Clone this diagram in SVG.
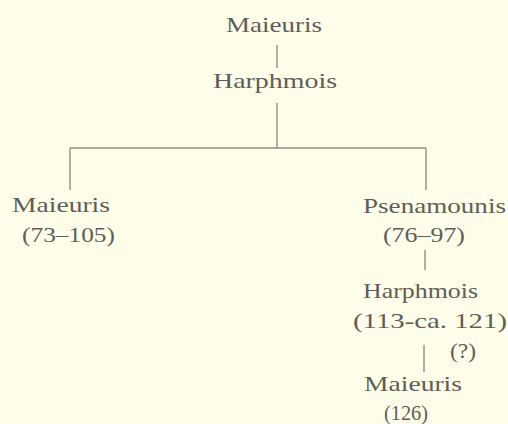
<svg xmlns="http://www.w3.org/2000/svg" width="508" height="424" viewBox="0 0 508 424">
<style>
.t{font-family:"Liberation Serif","Times New Roman",serif;font-size:21px;fill:#5e5e58;}
.c{stroke:#8e8e86;stroke-width:1.4;fill:none;}
</style>
<rect width="508" height="424" fill="#fdfde9"/>
<g id="connectors" class="c">
<line x1="277" y1="45" x2="277" y2="68"/>
<line x1="277" y1="103" x2="277" y2="148"/>
<line x1="70" y1="148" x2="426" y2="148"/>
<line x1="70" y1="148" x2="70" y2="190"/>
<line x1="426" y1="148" x2="426" y2="190"/>
<line x1="425" y1="250" x2="425" y2="270"/>
<line x1="424" y1="345" x2="424" y2="372"/>
</g>
<g id="n-maieuris-top"><text class="t" x="226" y="32" textLength="96" lengthAdjust="spacingAndGlyphs">Maieuris</text></g>
<g id="n-harphmois-top"><text class="t" x="213" y="88" textLength="124" lengthAdjust="spacingAndGlyphs">Harphmois</text></g>
<g id="n-maieuris-left"><text class="t" x="12" y="212" textLength="98" lengthAdjust="spacingAndGlyphs">Maieuris</text><text class="t" x="22" y="242" textLength="93" lengthAdjust="spacingAndGlyphs">(73–105)</text></g>
<g id="n-psenamounis"><text class="t" x="363" y="213" textLength="143" lengthAdjust="spacingAndGlyphs">Psenamounis</text><text class="t" x="383" y="242" textLength="82" lengthAdjust="spacingAndGlyphs">(76–97)</text></g>
<g id="n-harphmois-right"><text class="t" x="363" y="298" textLength="115" lengthAdjust="spacingAndGlyphs">Harphmois</text><text class="t" x="353" y="328" textLength="154" lengthAdjust="spacingAndGlyphs">(113-ca. 121)</text></g>
<g id="label-q"><text class="t" x="450" y="358" textLength="26" lengthAdjust="spacingAndGlyphs">(?)</text></g>
<g id="n-maieuris-right"><text class="t" x="364" y="391" textLength="98" lengthAdjust="spacingAndGlyphs">Maieuris</text><text class="t" x="384" y="420" textLength="44" lengthAdjust="spacingAndGlyphs">(126)</text></g>
</svg>
